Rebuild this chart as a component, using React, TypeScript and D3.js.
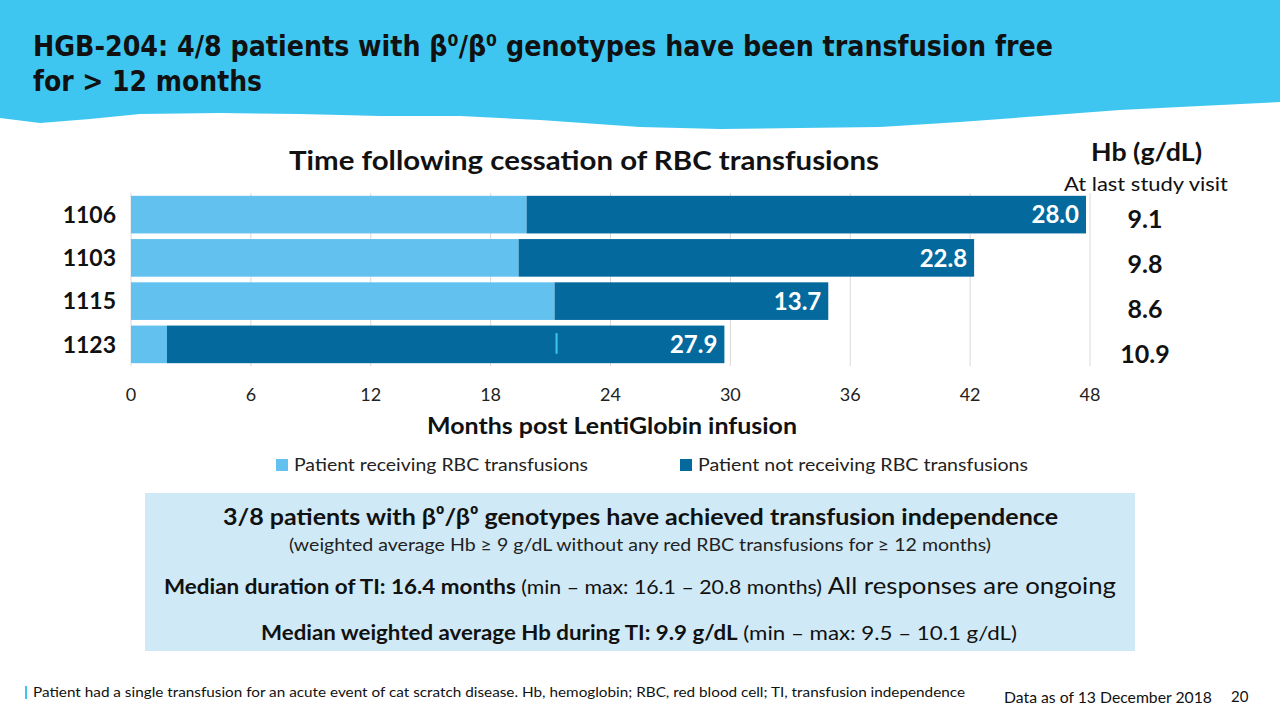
import React, { useEffect } from "react";
import * as d3 from "d3";

// chart values
const patients = ["1106", "1103", "1115", "1123"];
const receivingMonths = [19.8, 19.4, 21.2, 1.8];
const notReceivingMonths = [28.0, 22.8, 13.7, 27.9];
const hbLastVisit = ["9.1", "9.8", "8.6", "10.9"];
const xTicks = [0, 6, 12, 18, 24, 30, 36, 42, 48];
const singleTransfusion = { patient: "1123", month: 21.3 };
const legendLabels = ["Patient receiving RBC transfusions", "Patient not receiving RBC transfusions"];

const LIGHT = "#62C1EF";
const DARK = "#046A9E";
const BANNER = "#3FC6F0";
const BOX = "#CFE9F6";
const FONT = "Lato, 'Open Sans', sans-serif";
const TITLE_FONT = "'DejaVu Sans Condensed', 'DejaVu Sans', sans-serif";
const FIT = "spacingAndGlyphs";

export default function App() {
  useEffect(() => {
    document.body.style.margin = "0";
  }, []);

  const x = d3.scaleLinear().domain([0, 48]).range([131, 1090]);
  const y = d3.scaleBand<string>().domain(patients).range([193, 366]).padding(0.13).paddingOuter(0.065);
  const hbY = d3.scaleBand<string>().domain(patients).range([196, 377]);

  // rough brush-stroke edge of the header banner
  const edge: [number, number][] = [
    [0, 118], [40, 123], [90, 119], [140, 114], [220, 113], [300, 114], [380, 116], [460, 116],
    [540, 120], [640, 127], [720, 129], [800, 128], [880, 127], [960, 122], [1040, 116],
    [1120, 110], [1200, 106], [1280, 102],
  ];
  const bannerPath = d3.line()([[0, 0], [1280, 0], ...edge.slice().reverse()]) + "Z";

  const rows = patients.map((p, i) => ({
    p,
    start: receivingMonths[i],
    end: receivingMonths[i] + notReceivingMonths[i],
    label: notReceivingMonths[i].toFixed(1),
    hb: hbLastVisit[i],
  }));

  return (
    <svg width={1280} height={720} style={{ display: "block", background: "#fff" }}>
      <path d={bannerPath} fill={BANNER} />
      <g fontFamily={TITLE_FONT} fontWeight="bold" fill="#111">
        <text x={33} y={56} fontSize={29} textLength={1020} lengthAdjust={FIT}>
          HGB-204: 4/8 patients with β⁰/β⁰ genotypes have been transfusion free
        </text>
        <text x={33} y={91} fontSize={29} textLength={229} lengthAdjust={FIT}>
          for &gt; 12 months
        </text>
      </g>

      <g fontFamily={FONT}>
        <text x={289} y={170} fontSize={26} fontWeight="bold" fill="#111" textLength={590} lengthAdjust={FIT}>
          Time following cessation of RBC transfusions
        </text>
        <text x={1091} y={161} fontSize={24} fontWeight="bold" fill="#111" textLength={111} lengthAdjust={FIT}>
          Hb (g/dL)
        </text>
        <text x={1064} y={191} fontSize={20} fill="#111" textLength={164} lengthAdjust={FIT}>
          At last study visit
        </text>

        {/* grid */}
        {xTicks.map((t) => (
          <line key={t} x1={x(t)} x2={x(t)} y1={193} y2={366} stroke="#d9d9d9" strokeWidth={1} />
        ))}

        {rows.map((r) => (
          <g key={r.p}>
            <rect x={x(0)} y={y(r.p)} width={x(r.start) - x(0)} height={y.bandwidth()} fill={LIGHT} />
            <rect x={x(r.start)} y={y(r.p)} width={x(r.end) - x(r.start)} height={y.bandwidth()} fill={DARK} />
            <text
              x={x(r.end) - 7}
              y={y(r.p)! + y.bandwidth() / 2}
              dy="0.36em"
              textAnchor="end"
              fontSize={24}
              fontWeight="bold"
              fill="#fff"
            >
              {r.label}
            </text>
            <text x={116} y={y(r.p)! + y.bandwidth() / 2} dy="0.36em" textAnchor="end" fontSize={23} fontWeight="bold" fill="#111">
              {r.p}
            </text>
            <text x={1145} y={hbY(r.p)! + hbY.bandwidth() / 2} dy="0.36em" textAnchor="middle" fontSize={25} fontWeight="bold" fill="#111">
              {r.hb}
            </text>
          </g>
        ))}

        {/* single transfusion marker */}
        <line
          x1={x(singleTransfusion.month)}
          x2={x(singleTransfusion.month)}
          y1={y(singleTransfusion.patient)! + y.bandwidth() * 0.2}
          y2={y(singleTransfusion.patient)! + y.bandwidth() * 0.75}
          stroke="#3FC6F0"
          strokeWidth={2}
        />

        {xTicks.map((t) => (
          <text key={t} x={x(t)} y={401} textAnchor="middle" fontSize={18} fill="#222">
            {t}
          </text>
        ))}
        <text x={427} y={434} fontSize={22} fontWeight="bold" fill="#111" textLength={370} lengthAdjust={FIT}>
          Months post LentiGlobin infusion
        </text>

        {legendLabels.map((l, i) => (
          <g key={l} transform={`translate(${[276, 680][i]},459)`}>
            <rect width={12} height={12} fill={[LIGHT, DARK][i]} />
            <text x={18} y={6} dy="0.36em" fontSize={18} fill="#222" textLength={[294, 330][i]} lengthAdjust={FIT}>
              {l}
            </text>
          </g>
        ))}

        <rect x={145} y={493} width={990} height={158} fill={BOX} />
        <text x={223} y={525} fontSize={23} fontWeight="bold" fill="#111" textLength={835} lengthAdjust={FIT}>
          3/8 patients with β⁰/β⁰ genotypes have achieved transfusion independence
        </text>
        <text x={289} y={551} fontSize={17} fill="#222" textLength={702} lengthAdjust={FIT}>
          (weighted average Hb ≥ 9 g/dL without any red RBC transfusions for ≥ 12 months)
        </text>
        <text x={164} y={594} fill="#111" textLength={952} lengthAdjust={FIT}>
          <tspan fontSize={20} fontWeight="bold">Median duration of TI: 16.4 months</tspan>
          <tspan fontSize={19}> (min – max: 16.1 – 20.8 months)</tspan>
          <tspan fontSize={23}> All responses are ongoing</tspan>
        </text>
        <text x={261} y={640} fill="#111" textLength={756} lengthAdjust={FIT}>
          <tspan fontSize={20} fontWeight="bold">Median weighted average Hb during TI: 9.9 g/dL</tspan>
          <tspan fontSize={20}> (min – max: 9.5 – 10.1 g/dL)</tspan>
        </text>

        <rect x={25} y={686} width={2} height={13} fill="#3FC6F0" />
        <text x={33} y={697} fontSize={14} fill="#111" textLength={932} lengthAdjust={FIT}>
          Patient had a single transfusion for an acute event of cat scratch disease. Hb, hemoglobin; RBC, red blood cell;  TI, transfusion independence
        </text>
        <text x={1004} y={703} fontSize={15} fill="#111" textLength={208} lengthAdjust={FIT}>
          Data as of 13 December 2018
        </text>
        <text x={1231} y={702} fontSize={15} fill="#111">
          20
        </text>
      </g>
    </svg>
  );
}
